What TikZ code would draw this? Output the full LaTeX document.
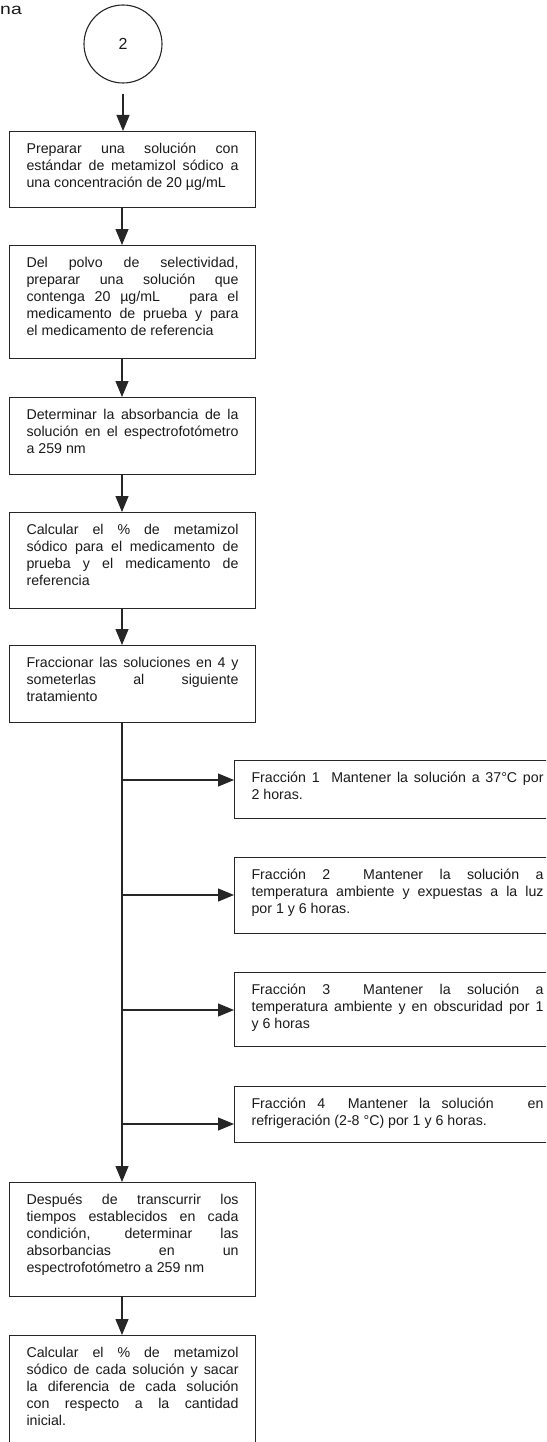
\documentclass[tikz,border=0pt]{standalone}
\usepackage{fontspec}
\setmainfont{Liberation Sans}
\usetikzlibrary{arrows.meta}

\definecolor{linec}{HTML}{262626}
\definecolor{textc}{HTML}{1A1A1A}

% justified text block of fixed width (#1) and height (#2), set from the top
\newcommand{\fctext}[3]{%
  \parbox[c][#2][t]{#1}{%
    \fontsize{14.2}{17}\selectfont
    \tolerance=10000 \hyphenpenalty=10000 \hbadness=10000
    \rule{0pt}{22pt}#3}}

\tikzset{
  x=1pt, y=1pt,
  flowbox/.style={draw=linec, line width=1.1pt, inner sep=0pt,
    anchor=north west, text=textc},
  mainbox/.style={flowbox, minimum width=246pt},
  fracbox/.style={flowbox, minimum width=326pt},
  link/.style={draw=linec, line width=1.1pt,
    -{Triangle[length=16pt,width=13pt]}},
}

\begin{document}
\begin{tikzpicture}
\useasboundingbox (0,0) rectangle (546,-1442);
\clip (0,0) rectangle (546,-1442);

% remnant of the heading above
\node[anchor=base west, inner sep=0pt, text=textc, xscale=1.25,
      font=\fontsize{15.5}{18}\selectfont] (hd) at (0,-14.5) {na};

% connector
\node[draw=linec, line width=1.1pt, circle, minimum size=78pt, text=textc,
      font=\fontsize{16}{18}\selectfont] (c2) at (123,-44) {2};

\coordinate (sx) at (122,0);

\node[mainbox] (p1) at (9,-131) {\fctext{212pt}{76pt}{%
Preparar una solución con\linebreak
estándar de metamizol sódico a\linebreak
una concentración de 20 µg/mL}};

\node[mainbox] (p2) at (9,-245) {\fctext{212pt}{113pt}{%
Del polvo de selectividad,\linebreak
preparar una solución que\linebreak
contenga 20 µg/mL \ \ para el\linebreak
medicamento de prueba y para\linebreak
el medicamento de referencia}};

\node[mainbox] (p3) at (9,-397) {\fctext{212pt}{77pt}{%
Determinar la absorbancia de la\linebreak
solución en el espectrofotómetro\linebreak
a 259 nm}};

\node[mainbox] (p4) at (9,-512) {\fctext{212pt}{96pt}{%
Calcular el \% de metamizol\linebreak
sódico para el medicamento de\linebreak
prueba y el medicamento de\linebreak
referencia}};

\node[mainbox] (p5) at (9,-645) {\fctext{212pt}{77pt}{%
Fraccionar las soluciones en 4 y\linebreak
someterlas al siguiente\linebreak
tratamiento}};

\node[fracbox] (f1) at (234,-760) {\fctext{292pt}{58pt}{%
Fracción 1 \ Mantener la solución a 37°C por\linebreak
2 horas.}};

\node[fracbox] (f2) at (234,-857) {\fctext{292pt}{76pt}{%
Fracción 2 \ Mantener la solución a\linebreak
temperatura ambiente y expuestas a la luz\linebreak
por 1 y 6 horas.}};

\node[fracbox] (f3) at (234,-972) {\fctext{292pt}{74pt}{%
Fracción 3 \ Mantener la solución a\linebreak
temperatura ambiente y en obscuridad por 1\linebreak
y 6 horas}};

\node[fracbox] (f4) at (234,-1086) {\fctext{292pt}{56pt}{%
Fracción 4 \ Mantener la solución \ \ en\linebreak
refrigeración (2-8 °C) por 1 y 6 horas.}};

\node[mainbox] (p6) at (9,-1182) {\fctext{212pt}{114pt}{%
Después de transcurrir los\linebreak
tiempos establecidos en cada\linebreak
condición, determinar las\linebreak
absorbancias en un\linebreak
espectrofotómetro a 259 nm}};

\node[mainbox] (p7) at (9,-1335) {\fctext{212pt}{130pt}{%
Calcular el \% de metamizol\linebreak
sódico de cada solución y sacar\linebreak
la diferencia de cada solución\linebreak
con respecto a la cantidad\linebreak
inicial.}};

% main sequence
\draw[link, shorten <=10pt] (c2) -- (c2 |- p1.north);
\draw[link] (p1.south -| sx) -- (p2.north -| sx);
\draw[link] (p2.south -| sx) -- (p3.north -| sx);
\draw[link] (p3.south -| sx) -- (p4.north -| sx);
\draw[link] (p4.south -| sx) -- (p5.north -| sx);
\draw[link] (p5.south -| sx) -- (p6.north -| sx);
\draw[link] (p6.south -| sx) -- (p7.north -| sx);

% branches to the four fractions
\coordinate (b1) at (122,-780);
\coordinate (b2) at (122,-895);
\coordinate (b3) at (122,-1010);
\coordinate (b4) at (122,-1124);
\draw[link] (b1) -- (b1 -| f1.west);
\draw[link] (b2) -- (b2 -| f2.west);
\draw[link] (b3) -- (b3 -| f3.west);
\draw[link] (b4) -- (b4 -| f4.west);
\end{tikzpicture}
\end{document}
